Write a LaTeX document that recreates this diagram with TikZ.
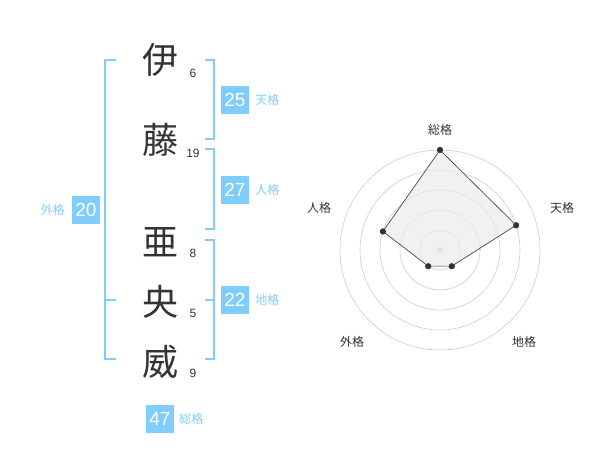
\documentclass[tikz,border=0pt]{standalone}
\usepackage{fontspec}
\setmainfont{Liberation Sans}
\newfontfamily\cjk{Noto Sans CJK JP}
\usetikzlibrary{positioning,calc}
\definecolor{kakublue}{HTML}{80CCFA}
\definecolor{inkgray}{HTML}{333333}
\definecolor{ringgray}{HTML}{CCCCCC}
\tikzset{
  kanji/.style={font=\cjk\fontsize{36}{36}\selectfont, text=inkgray, inner sep=0pt},
  strokes/.style={font=\fontsize{12}{12}\selectfont, text=inkgray, inner sep=0pt},
  scorebox/.style={fill=kakublue, text=white, minimum size=28pt, inner sep=0pt,
    font=\fontsize{19}{19}\selectfont},
  kakulabel/.style={font=\cjk\fontsize{12}{12}\selectfont, text=kakublue, inner sep=0pt},
  bracket/.style={draw=kakublue, line width=1.5pt},
  axislabel/.style={font=\cjk\fontsize{12}{12}\selectfont, text=inkgray, inner sep=0pt},
  ring/.style={draw=ringgray, line width=0.6pt},
  dot/.style={circle, fill=inkgray, inner sep=0pt, minimum size=6pt}
}
\begin{document}
\begin{tikzpicture}[x=1pt, y=-1pt]
    % fix the page to the reference size
    \useasboundingbox (0,0) rectangle (600,470);

    % define the name characters
    \node[kanji] (c1) at (160,60) {伊};
    \node[kanji] (c2) at (160,140) {藤};
    \node[kanji] (c3) at (160,242) {亜};
    \node[kanji] (c4) at (160,302) {央};
    \node[kanji] (c5) at (160,362) {威};

    % stroke counts beside each character
    \node[strokes] (n1) at (193,73) {6};
    \node[strokes] (n2) at (193,153) {19};
    \node[strokes] (n3) at (193,253) {8};
    \node[strokes] (n4) at (193,313) {5};
    \node[strokes] (n5) at (193,373) {9};

    % bracket corners
    \coordinate (tA) at (205,60);  \coordinate (tB) at (214,60);
    \coordinate (tC) at (214,139); \coordinate (tD) at (205,139);
    \coordinate (jA) at (205,149); \coordinate (jB) at (214,149);
    \coordinate (jC) at (214,229); \coordinate (jD) at (205,229);
    \coordinate (cA) at (205,240); \coordinate (cB) at (214,240);
    \coordinate (cC) at (214,359); \coordinate (cD) at (205,359);
    \coordinate (cM) at (205,300); \coordinate (cN) at (214,300);
    \coordinate (gA) at (116,60);  \coordinate (gB) at (105,60);
    \coordinate (gC) at (105,359); \coordinate (gD) at (116,359);
    \coordinate (gM) at (116,300); \coordinate (gN) at (105,300);

    % draw the brackets
    \draw[bracket] (tA) -- (tB) -- (tC) -- (tD);
    \draw[bracket] (jA) -- (jB) -- (jC) -- (jD);
    \draw[bracket] (cA) -- (cB) -- (cC) -- (cD);
    \draw[bracket] (cM) -- (cN);
    \draw[bracket] (gA) -- (gB) -- (gC) -- (gD);
    \draw[bracket] (gM) -- (gN);

    % score boxes with their labels
    \node[scorebox] (ten) at (235,100) {25};
    \node[kakulabel, right=6pt of ten] (tenl) {天格};
    \node[scorebox] (jin) at (235,190) {27};
    \node[kakulabel, right=6pt of jin] (jinl) {人格};
    \node[scorebox] (chi) at (235,300) {22};
    \node[kakulabel, right=6pt of chi] (chil) {地格};
    \node[scorebox] (gai) at (86,210) {20};
    \node[kakulabel, left=7pt of gai] (gail) {外格};
    \node[scorebox] (sou) at (160,419) {47};
    \node[kakulabel, right=5pt of sou] (soul) {総格};

    % radar chart rings
    \coordinate (o) at (440,250);
    \foreach \r in {20,40,60,80,100}
      \draw[ring] (o) circle (\r);
    \fill[ringgray] (o) circle (3.2);

    % radar data points
    \node[dot] (pS) at ($(o)+(-90:100)$) {};
    \node[dot] (pT) at ($(o)+(-18:80)$) {};
    \node[dot] (pC) at ($(o)+(54:20)$) {};
    \node[dot] (pG) at ($(o)+(126:20)$) {};
    \node[dot] (pJ) at ($(o)+(198:60)$) {};
    \path[fill=black!8, fill opacity=0.7, draw=inkgray, line width=0.6pt]
      (pS.center) -- (pT.center) -- (pC.center) -- (pG.center) -- (pJ.center) -- cycle;
    \foreach \p in {pS,pT,pC,pG,pJ}
      \fill[inkgray] (\p) circle (3);

    % radar axis labels
    \node[axislabel] (aS) at (440,130) {総格};
    \node[axislabel] (aT) at (562,208) {天格};
    \node[axislabel] (aC) at (524,342) {地格};
    \node[axislabel] (aG) at (352,342) {外格};
    \node[axislabel] (aJ) at (319,208) {人格};
\end{tikzpicture}
\end{document}
